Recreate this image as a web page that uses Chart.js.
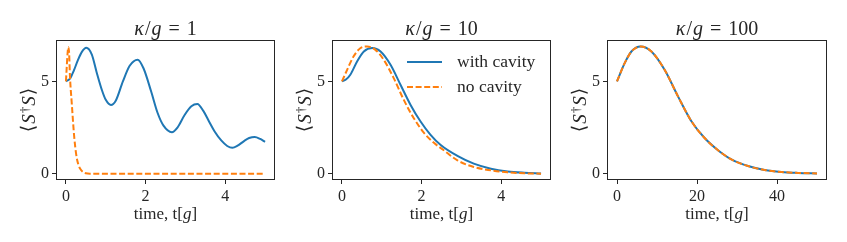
<!DOCTYPE html>
<html>
<head>
<meta charset="utf-8">
<script src="https://cdn.jsdelivr.net/npm/chart.js@4.4.1/dist/chart.umd.min.js"></script>
<style>
html, body { margin: 0; padding: 0; background: #fff; }
body { position: relative; width: 847px; height: 242px; overflow: hidden; }
canvas { position: absolute; top: 0; }
</style>
</head>
<body>
<canvas id="c1" width="283" height="242" style="left:0px"></canvas>
<canvas id="c2" width="283" height="242" style="left:276px"></canvas>
<canvas id="c3" width="284" height="242" style="left:551px"></canvas>
<script>
// kappa/g = 1
const tCav1 = [0, 0.1, 0.2, 0.3, 0.4, 0.51, 0.65, 0.77, 0.9, 1.0, 1.13, 1.25, 1.43, 1.6, 1.8, 1.95, 2.14, 2.3, 2.45, 2.66, 2.8, 2.98, 3.15, 3.3, 3.45, 3.6, 3.73, 3.9, 4.05, 4.18, 4.3, 4.48, 4.6, 4.74, 4.88, 5.0]
const cav1 = [5.0, 5.15, 5.6, 6.15, 6.6, 6.82, 6.45, 5.5, 4.55, 4.0, 3.72, 3.95, 5.0, 5.85, 6.18, 5.7, 4.45, 3.3, 2.6, 2.25, 2.5, 3.18, 3.65, 3.77, 3.4, 2.8, 2.3, 1.8, 1.5, 1.4, 1.5, 1.78, 1.93, 1.99, 1.88, 1.72]
const tFree1 = [0, 0.02, 0.04, 0.06, 0.08, 0.1, 0.143, 0.21, 0.26, 0.31, 0.37, 0.436, 0.5, 0.6, 1, 2, 3, 4, 5]
const free1 = [5.0, 5.8, 6.5, 6.86, 6.5, 5.3, 3.9, 1.93, 1.0, 0.5, 0.22, 0.07, 0.02, 0, 0, 0, 0, 0, 0]

// kappa/g = 10
const tCav2 = [0, 0.1, 0.21, 0.38, 0.55, 0.76, 0.97, 1.22, 1.47, 1.72, 1.97, 2.22, 2.48, 2.9, 3.31, 3.74, 4.16, 4.58, 5.0]
const cav2 = [5.0, 5.1, 5.36, 6.08, 6.62, 6.81, 6.62, 5.9, 4.82, 3.74, 2.84, 2.12, 1.55, 0.96, 0.54, 0.27, 0.12, 0.05, 0.01]
const tFree2 = [0, 0.13, 0.29, 0.46, 0.63, 0.84, 1.05, 1.3, 1.55, 1.8, 2.06, 2.31, 2.55, 2.9, 3.31, 3.74, 4.16, 4.58, 5.0]
const free2 = [5.0, 5.63, 6.35, 6.8, 6.89, 6.71, 6.17, 5.18, 4.01, 3.02, 2.21, 1.67, 1.28, 0.72, 0.36, 0.18, 0.07, 0.02, 0.0]

// kappa/g = 100 (both curves lie on top of each other)
const tCav3 = [0, 1.92, 3.6, 5.92, 8.6, 11.9, 15.25, 18.6, 21.9, 25.25, 28.6, 32.75, 36.9, 41.1, 45.25, 50]
const cav3 = [5.0, 5.99, 6.62, 6.89, 6.62, 5.63, 4.19, 2.84, 1.93, 1.27, 0.77, 0.41, 0.2, 0.09, 0.04, 0.01]
const tFree3 = [0, 1.92, 3.6, 5.92, 8.6, 11.9, 15.25, 18.6, 21.9, 25.25, 28.6, 32.75, 36.9, 41.1, 45.25, 50]
const free3 = [5.0, 5.99, 6.62, 6.89, 6.62, 5.63, 4.19, 2.84, 1.93, 1.27, 0.77, 0.41, 0.2, 0.09, 0.04, 0.01]

const kappas = ['1', '10', '100']
const seriesNames = ['with cavity', 'no cavity']
const xTicksShort = [0, 2, 4]
const xTicksLong = [0, 20, 40]
const yTicks = [0, 5]

const SERIF = '"Liberation Serif", "DejaVu Serif", serif'
const INK = '#262626'
const BLUE = '#1f77b4'
const ORANGE = '#ff7f0e'

function pts(xs, ys) {
    return xs.map((x, i) => ({ x, y: ys[i] }))
}

// draws a line of mixed upright / italic pieces centred on x
function drawRich(ctx, parts, x, y, size) {
    const fontOf = p => (p.it ? 'italic ' : '') + (size * (p.s || 1)) + 'px ' + SERIF
    let total = 0
    const widths = parts.map(p => {
        ctx.font = fontOf(p)
        const w = ctx.measureText(p.t).width + (p.l || 0) + (p.r || 0)
        total += w
        return w
    })
    let cx = x - total / 2
    ctx.textAlign = 'left'
    parts.forEach((p, i) => {
        ctx.font = fontOf(p)
        ctx.fillText(p.t, cx + (p.l || 0), y + (p.dy || 0))
        cx += widths[i]
    })
}

function decor(kappa, withLegend) {
    return {
        id: 'decor',
        afterDraw(chart) {
            const ctx = chart.ctx
            const a = chart.chartArea
            ctx.save()
            ctx.strokeStyle = INK
            ctx.lineWidth = 1
            ctx.strokeRect(Math.round(a.left) + 0.5, Math.round(a.top) + 0.5,
                Math.round(a.right - a.left) - 1, Math.round(a.bottom - a.top) - 1)

            ctx.fillStyle = INK
            ctx.textBaseline = 'alphabetic'
            const mid = (a.left + a.right) / 2
            drawRich(ctx, [
                { t: 'κ', it: true },
                { t: '/', l: 1, r: 1 },
                { t: 'g', it: true },
                { t: '=', l: 7, r: 7 },
                { t: kappa }
            ], mid, 34.5, 20)

            drawRich(ctx, [
                { t: 'time, t[' },
                { t: 'g', it: true },
                { t: ']' }
            ], mid, 218.5, 17)

            ctx.save()
            ctx.translate(a.left - 26.5, (a.top + a.bottom) / 2)
            ctx.rotate(-Math.PI / 2)
            ctx.textBaseline = 'middle'
            drawRich(ctx, [
                { t: '⟨', r: 1 },
                { t: 'S', it: true },
                { t: '†', s: 0.7, dy: -4, l: 1 },
                { t: 'S', it: true, l: 1 },
                { t: '⟩', l: 1 }
            ], 0, 0, 19)
            ctx.restore()

            if (withLegend) {
                const rows = [
                    { label: seriesNames[0], color: BLUE, dash: [] },
                    { label: seriesNames[1], color: ORANGE, dash: [6, 2.6] }
                ]
                ctx.textBaseline = 'middle'
                ctx.textAlign = 'left'
                ctx.font = '17.5px ' + SERIF
                rows.forEach((r, i) => {
                    const y = a.top + 22 + i * 25
                    ctx.strokeStyle = r.color
                    ctx.lineWidth = 2
                    ctx.setLineDash(r.dash)
                    ctx.beginPath()
                    ctx.moveTo(a.left + 75, y)
                    ctx.lineTo(a.left + 110, y)
                    ctx.stroke()
                    ctx.setLineDash([])
                    ctx.fillStyle = INK
                    ctx.fillText(r.label, a.left + 125, y)
                })
            }
            ctx.restore()
        }
    }
}

function axisBase(tickValues, min, max) {
    return {
        type: 'linear',
        min,
        max,
        afterBuildTicks: s => { s.ticks = tickValues.map(v => ({ value: v })) },
        ticks: { autoSkip: false, maxRotation: 0, padding: 3, color: INK, font: { family: SERIF, size: 16 } },
        grid: { drawOnChartArea: false, drawTicks: true, tickLength: 4, tickColor: INK, tickWidth: 1 },
        border: { display: false }
    }
}

function makePanel(id, kappa, tc, c, tf, f, xMin, xMax, xTicks, withLegend) {
    const x = axisBase(xTicks, xMin, xMax)
    x.afterFit = s => { s.height = 62 }
    const y = axisBase(yTicks, -0.345, 7.245)
    y.afterFit = s => { s.width = 56 }

    return new Chart(document.getElementById(id), {
        type: 'line',
        data: {
            datasets: [{
                label: seriesNames[0],
                data: pts(tc, c),
                borderColor: BLUE,
                borderWidth: 2,
                pointRadius: 0,
                cubicInterpolationMode: 'monotone',
                order: 1
            }, {
                label: seriesNames[1],
                data: pts(tf, f),
                borderColor: ORANGE,
                borderWidth: 2,
                borderDash: [6, 2.6],
                pointRadius: 0,
                cubicInterpolationMode: 'monotone',
                order: 0
            }]
        },
        options: {
            responsive: false,
            animation: false,
            events: [],
            layout: { padding: { top: 40, right: 8, bottom: 0, left: 0 } },
            scales: { x, y },
            plugins: { legend: { display: false }, tooltip: { enabled: false } }
        },
        plugins: [decor(kappa, withLegend)]
    })
}

makePanel('c1', kappas[0], tCav1, cav1, tFree1, free1, -0.25, 5.25, xTicksShort, false)
makePanel('c2', kappas[1], tCav2, cav2, tFree2, free2, -0.25, 5.25, xTicksShort, true)
makePanel('c3', kappas[2], tCav3, cav3, tFree3, free3, -2.5, 52.5, xTicksLong, false)
</script>
</body>
</html>
